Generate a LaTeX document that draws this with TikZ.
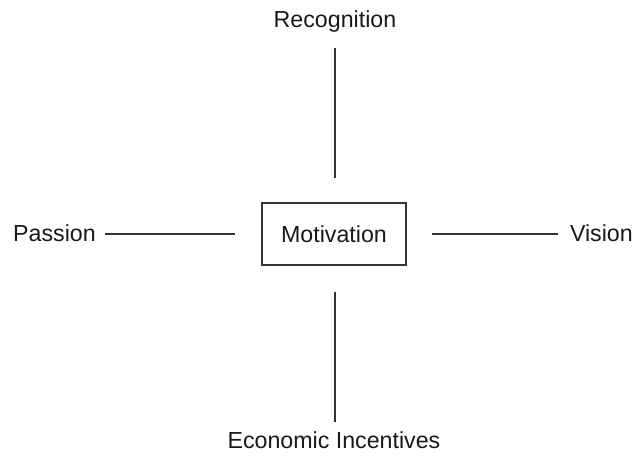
\documentclass[tikz,border=0pt]{standalone}
\usepackage{fontspec}
\setmainfont{Liberation Sans}
\begin{document}
\begin{tikzpicture}[x=1pt,y=1pt,
  lbl/.style={inner sep=0pt, font=\fontsize{23.2}{27}\selectfont, text=black!90},
  spoke/.style={line width=1.8pt, draw=black!80},
  hub/.style={draw=black!80, line width=1.4pt, minimum width=144pt, minimum height=62pt, inner sep=0pt, font=\fontsize{23.2}{27}\selectfont, text=black!90}]
\useasboundingbox (0,0) rectangle (634,458);
\node[hub] (m) at (334,224) {Motivation};
\node[lbl] (r) at (335,436) {Recognition};
\node[lbl] (e) at (334,18) {Economic Incentives};
\node[lbl, anchor=west] (p) at (13,225) {Passion};
\node[lbl, anchor=east] (v) at (633,225) {Vision};
\coordinate (t1) at (335,410);
\coordinate (t2) at (335,280);
\coordinate (b1) at (335,166);
\coordinate (b2) at (335,36);
\coordinate (l1) at (105,224);
\coordinate (l2) at (235,224);
\coordinate (r1) at (432,224);
\coordinate (r2) at (558,224);
\draw[spoke] (t1) -- (t2);
\draw[spoke] (b1) -- (b2);
\draw[spoke] (l1) -- (l2);
\draw[spoke] (r1) -- (r2);
\end{tikzpicture}
\end{document}
